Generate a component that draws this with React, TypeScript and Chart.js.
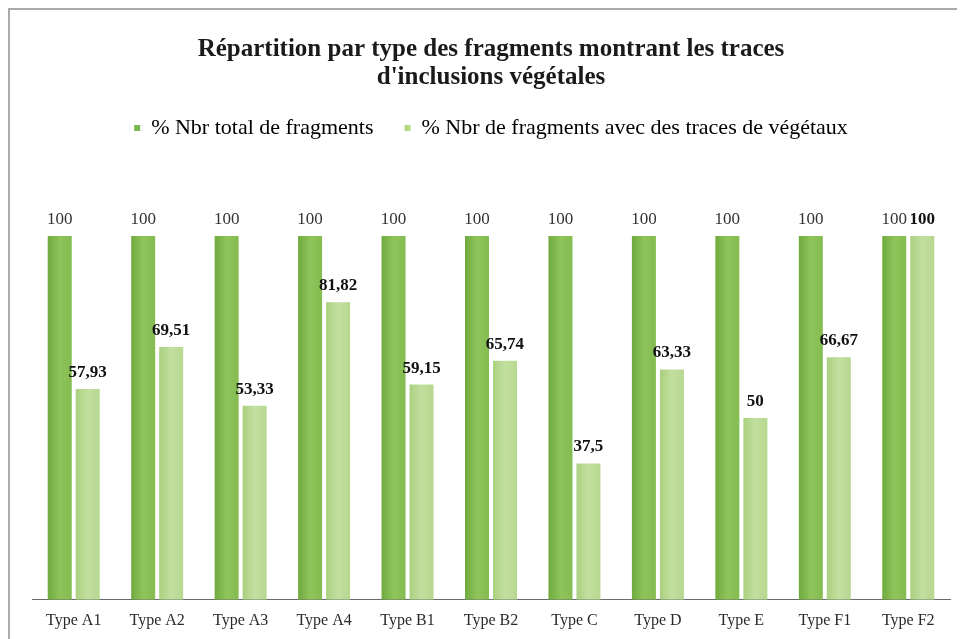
import React, { useEffect, useRef } from "react";
import { Chart, registerables } from "chart.js";

Chart.register(...registerables);

const categories = ["Type A1", "Type A2", "Type A3", "Type A4", "Type B1", "Type B2", "Type C", "Type D", "Type E", "Type F1", "Type F2"];
const totalFragments = [100, 100, 100, 100, 100, 100, 100, 100, 100, 100, 100];
const vegetalFragments = [57.93, 69.51, 53.33, 81.82, 59.15, 65.74, 37.5, 63.33, 50, 66.67, 100];
const seriesNames = ["% Nbr total de fragments", "% Nbr de fragments avec des traces de végétaux"];
const titleLines = ["Répartition par type des fragments montrant les traces", "d'inclusions végétales"];

const CAT_PCT = 0.671;
const BAR_PCT = 0.857;
const FONT = "'Liberation Serif', 'Times New Roman', serif";

const darkStops = ["#6faa3e", "#8fc45b", "#84bc50"];
const lightStops = ["#a9d07f", "#c2df9f", "#b6d88f"];

function gradientFor(ctx: any, dsIndex: number) {
  const chart = ctx.chart;
  const xs = chart.scales?.x;
  const stops = dsIndex === 0 ? darkStops : lightStops;
  if (!xs || ctx.dataIndex === undefined) return stops[1];
  const center = xs.getPixelForValue(ctx.dataIndex);
  const catW = (xs.right - xs.left) / categories.length;
  const slot = (catW * CAT_PCT) / 2;
  const start = dsIndex === 0 ? center - slot : center;
  const w = slot * BAR_PCT;
  const x0 = start + (slot - w) / 2;
  const g = chart.ctx.createLinearGradient(x0, 0, x0 + w, 0);
  g.addColorStop(0, stops[0]);
  g.addColorStop(0.5, stops[1]);
  g.addColorStop(1, stops[2]);
  return g;
}

const valueLabels = {
  id: "valueLabels",
  afterDatasetsDraw(chart: any) {
    const ctx = chart.ctx;
    ctx.save();
    ctx.textAlign = "center";
    ctx.textBaseline = "bottom";
    chart.data.datasets.forEach((ds: any, di: number) => {
      const meta = chart.getDatasetMeta(di);
      ctx.font = (di === 1 ? "bold " : "") + "17px " + FONT;
      ctx.fillStyle = di === 1 ? "#111" : "#333";
      meta.data.forEach((el: any, i: number) => {
        const v = ds.data[i];
        ctx.fillText(String(v).replace(".", ","), el.x, el.y - 8);
      });
    });
    ctx.restore();
  },
};

const legendGap = {
  id: "legendGap",
  beforeInit(chart: any) {
    const lg = chart.legend;
    if (!lg) return;
    const orig = lg.fit;
    lg.fit = function () {
      orig.call(this);
      this.height += 87;
    };
  },
};

export default function App() {
  const ref = useRef<HTMLCanvasElement | null>(null);
  useEffect(() => {
    if (!ref.current) return;
    const chart = new Chart(ref.current, {
      type: "bar",
      data: {
        labels: categories,
        datasets: [
          {
            label: seriesNames[0],
            data: totalFragments,
            backgroundColor: (c: any) => gradientFor(c, 0),
            categoryPercentage: CAT_PCT,
            barPercentage: BAR_PCT,
          },
          {
            label: seriesNames[1],
            data: vegetalFragments,
            backgroundColor: (c: any) => gradientFor(c, 1),
            categoryPercentage: CAT_PCT,
            barPercentage: BAR_PCT,
          },
        ],
      },
      options: {
        animation: false,
        responsive: false,
        maintainAspectRatio: false,
        layout: { padding: { left: 22, right: 15, top: 0, bottom: -2 } },
        plugins: {
          tooltip: { enabled: false },
          title: {
            display: true,
            text: titleLines,
            color: "#1a1a1a",
            font: { family: FONT, size: 25, weight: "bold", lineHeight: 1.12 },
            padding: { top: 26, bottom: -6 },
          },
          legend: {
            display: true,
            position: "top",
            labels: {
              color: "#222",
              font: { family: FONT, size: 22 },
              boxWidth: 6,
              boxHeight: 6,
              padding: 31,
              generateLabels: () =>
                seriesNames.map((n, i) => ({
                  text: n,
                  fillStyle: i === 0 ? "#79b84e" : "#b7d77f",
                  strokeStyle: "rgba(0,0,0,0)",
                  lineWidth: 0,
                  datasetIndex: i,
                  hidden: false,
                })),
            },
          },
        },
        scales: {
          x: {
            grid: { display: false, drawTicks: false },
            border: { display: true, color: "#6b6b6b", width: 1 },
            ticks: { color: "#2a2a2a", font: { family: FONT, size: 16 }, padding: 11 },
          },
          y: {
            display: false,
            min: 0,
            max: 100,
          },
        },
      },
      plugins: [valueLabels, legendGap],
    } as any);
    return () => chart.destroy();
  }, []);
  return (
    <div
      style={{
        width: 957,
        height: 631,
        boxSizing: "border-box",
        borderTop: "2px solid #aaaaaa",
        borderLeft: "2px solid #aaaaaa",
        background: "#fff",
        overflow: "hidden",
      }}
    >
      <canvas ref={ref} width={955} height={629} style={{ display: "block" }} />
    </div>
  );
}
